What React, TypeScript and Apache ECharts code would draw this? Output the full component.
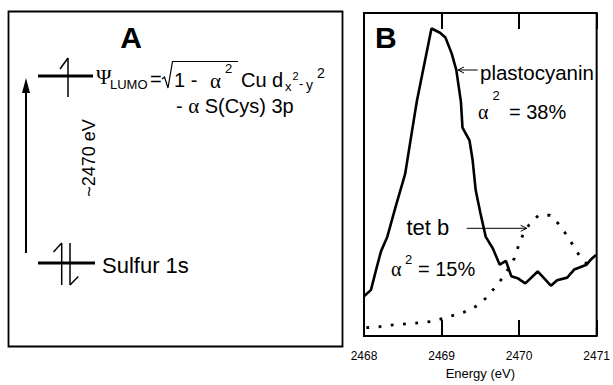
import React, { useEffect, useRef } from "react";
import * as echarts from "echarts";

// Energy axis
const energyMin = 2468;
const energyMax = 2471;
const energyStep = 1;

// plastocyanin spectrum (arbitrary intensity)
const plastoEnergy = [2468.0, 2468.09, 2468.16, 2468.22, 2468.3, 2468.41, 2468.53, 2468.62, 2468.68, 2468.75, 2468.87, 2468.98, 2469.05, 2469.13, 2469.19, 2469.25, 2469.27, 2469.36, 2469.4, 2469.44, 2469.5, 2469.57, 2469.66, 2469.75, 2469.83, 2469.9, 2469.99, 2470.08, 2470.24, 2470.41, 2470.49, 2470.62, 2470.71, 2470.87, 2470.93, 2470.99];
const plastoIntensity = [0.123, 0.143, 0.209, 0.263, 0.307, 0.402, 0.501, 0.636, 0.725, 0.809, 0.952, 0.939, 0.924, 0.875, 0.824, 0.725, 0.645, 0.606, 0.546, 0.452, 0.382, 0.307, 0.272, 0.221, 0.233, 0.185, 0.178, 0.163, 0.2, 0.156, 0.173, 0.181, 0.206, 0.221, 0.238, 0.251];

// tet b spectrum
const tetbEnergy = [2468.03, 2468.2, 2468.35, 2468.5, 2468.62, 2468.76, 2468.89, 2469.01, 2469.15, 2469.29, 2469.45, 2469.58, 2469.69, 2469.78, 2469.86, 2469.94, 2469.99, 2470.05, 2470.13, 2470.25, 2470.4, 2470.51, 2470.61, 2470.69, 2470.78, 2470.91];
const tetbIntensity = [0.026, 0.029, 0.034, 0.037, 0.039, 0.042, 0.046, 0.054, 0.064, 0.074, 0.093, 0.119, 0.151, 0.178, 0.208, 0.241, 0.278, 0.314, 0.345, 0.374, 0.374, 0.347, 0.314, 0.283, 0.248, 0.213];

const SANS = "'Liberation Sans', Arial, sans-serif";
const SERIF = "'Liberation Serif', 'Times New Roman', serif";

const txt = (text: string, x: number, y: number, fontSize: number, extra: any = {}, el: any = {}) => ({
  type: "text",
  x,
  y,
  z: 10,
  ...el,
  style: {
    text,
    fontSize,
    fontFamily: SANS,
    fill: "#000",
    align: "left",
    verticalAlign: "middle",
    ...extra,
  },
});

const ln = (x1: number, y1: number, x2: number, y2: number, w: number) => ({
  type: "line",
  z: 10,
  shape: { x1, y1, x2, y2 },
  style: { stroke: "#000", lineWidth: w },
});

const pl = (points: number[][], w: number) => ({
  type: "polyline",
  z: 10,
  shape: { points },
  style: { stroke: "#000", fill: "none", lineWidth: w },
});

export default function App() {
  const ref = useRef<HTMLDivElement>(null);
  useEffect(() => {
    if (!ref.current) return;
    const chart = echarts.init(ref.current, null, { renderer: "svg" });
    const plasto = plastoEnergy.map((e, i) => [e, plastoIntensity[i]]);
    const tetb = tetbEnergy.map((e, i) => [e, tetbIntensity[i]]);

    const graphic: any[] = [
      // Panel A frame
      {
        type: "rect",
        z: 10,
        shape: { x: 8.5, y: 11.5, width: 334, height: 335 },
        style: { fill: "none", stroke: "#000", lineWidth: 1.8 },
      },
      txt("A", 131, 37, 30, { fontWeight: "bold", align: "center" }),
      // LUMO level
      ln(38, 76, 93, 76, 3),
      ln(68, 58, 68, 97, 1.5),
      ln(68, 58, 60, 69, 1.5),
      // energy arrow
      ln(26, 90, 26, 253, 2),
      {
        type: "polygon",
        z: 10,
        shape: { points: [[26, 78], [22, 93], [30, 93]] },
        style: { fill: "#000" },
      },
      txt("~2470 eV", 89, 158, 18, { align: "center" }, { rotation: Math.PI / 2 }),
      // Sulfur 1s level
      ln(38, 263, 95, 263, 3),
      ln(61.7, 243, 61.7, 285, 1.5),
      ln(61.7, 243, 53.5, 252, 1.5),
      ln(70, 243, 70, 285, 1.5),
      ln(70, 285, 78.3, 276.5, 1.5),
      txt("Sulfur 1s", 102, 265, 22),
      // Psi LUMO formula
      txt("Ψ", 96, 77, 21, { fontFamily: SERIF }),
      txt("LUMO", 110, 84, 13),
      txt("=", 150, 79, 20),
      pl([[162, 79], [164.5, 77], [168, 88], [172.5, 61.5], [238, 61.5]], 1.2),
      txt("1 - ", 174, 80, 20),
      txt("α", 210, 81, 21, { fontFamily: SERIF }),
      txt("2", 225, 68, 13),
      txt("Cu d", 241, 80, 20),
      txt("x", 285, 86, 13),
      txt("2", 292.5, 76, 11),
      txt("-", 299, 83, 13),
      txt("y", 306, 85, 14),
      txt("2", 317, 73, 14),
      {
        type: "text",
        x: 176,
        y: 106,
        z: 10,
        style: {
          text: "- {g|α} S(Cys) 3p",
          fontSize: 20,
          fontFamily: SANS,
          fill: "#000",
          align: "left",
          verticalAlign: "middle",
          rich: { g: { fontSize: 21, fontFamily: SERIF } },
        },
      },
      // Panel B annotations
      txt("B", 375, 37, 30, { fontWeight: "bold" }),
      txt("plastocyanin", 480, 72.5, 20.5),
      ln(458, 70, 477.7, 70, 1),
      pl([[464, 67], [458, 70], [464, 73]], 1),
      txt("α", 478, 112, 20, { fontFamily: SERIF }),
      txt("2", 492.5, 95, 13),
      txt("= 38%", 509, 112, 20),
      txt("tet b", 406.5, 227.5, 22),
      ln(466.7, 228.3, 526.7, 228.3, 1),
      pl([[520.7, 225.3], [526.7, 228.3], [520.7, 231.3]], 1),
      txt("α", 391, 269, 20, { fontFamily: SERIF }),
      txt("2", 405, 259, 13),
      txt("= 15%", 418, 269, 20),
    ];

    chart.setOption({
      animation: false,
      backgroundColor: "#fff",
      grid: {
        left: 364,
        top: 13,
        width: 238,
        height: 335,
        show: true,
        borderColor: "#000",
        borderWidth: 2,
        backgroundColor: "transparent",
        containLabel: false,
      },
      xAxis: [
        {
          type: "value",
          position: "bottom",
          min: energyMin,
          max: energyMax,
          interval: energyStep,
          axisLine: { show: false },
          axisTick: { show: true, inside: true, length: 16, lineStyle: { color: "#000", width: 2 } },
          axisLabel: {
            show: true,
            color: "#000",
            fontSize: 12,
            fontFamily: SANS,
            margin: 14,
            showMinLabel: true,
            showMaxLabel: true,
            formatter: (v: number) => String(v),
          },
          splitLine: { show: false },
          name: "Energy (eV)",
          nameLocation: "middle",
          nameGap: 28,
          nameTextStyle: { color: "#000", fontSize: 13, fontFamily: SANS },
        },
        {
          type: "value",
          position: "top",
          min: energyMin,
          max: energyMax,
          interval: energyStep,
          axisLine: { show: false },
          axisTick: { show: true, inside: true, length: 16, lineStyle: { color: "#000", width: 2 } },
          axisLabel: { show: false },
          splitLine: { show: false },
        },
      ],
      yAxis: {
        type: "value",
        min: 0,
        max: 1,
        show: false,
        splitLine: { show: false },
      },
      series: [
        {
          name: "plastocyanin",
          type: "line",
          data: plasto,
          showSymbol: false,
          symbol: "none",
          lineStyle: { color: "#000", width: 2.6 },
          z: 3,
        },
        {
          name: "tet b",
          type: "line",
          data: tetb,
          showSymbol: false,
          symbol: "none",
          lineStyle: { color: "#000", width: 2.8, type: [2.8, 9.5] },
          z: 3,
        },
      ],
      graphic,
    });
    return () => chart.dispose();
  }, []);
  return (
    <div
      ref={ref}
      style={{ position: "fixed", left: 0, top: 0, width: 613, height: 385 }}
    />
  );
}
